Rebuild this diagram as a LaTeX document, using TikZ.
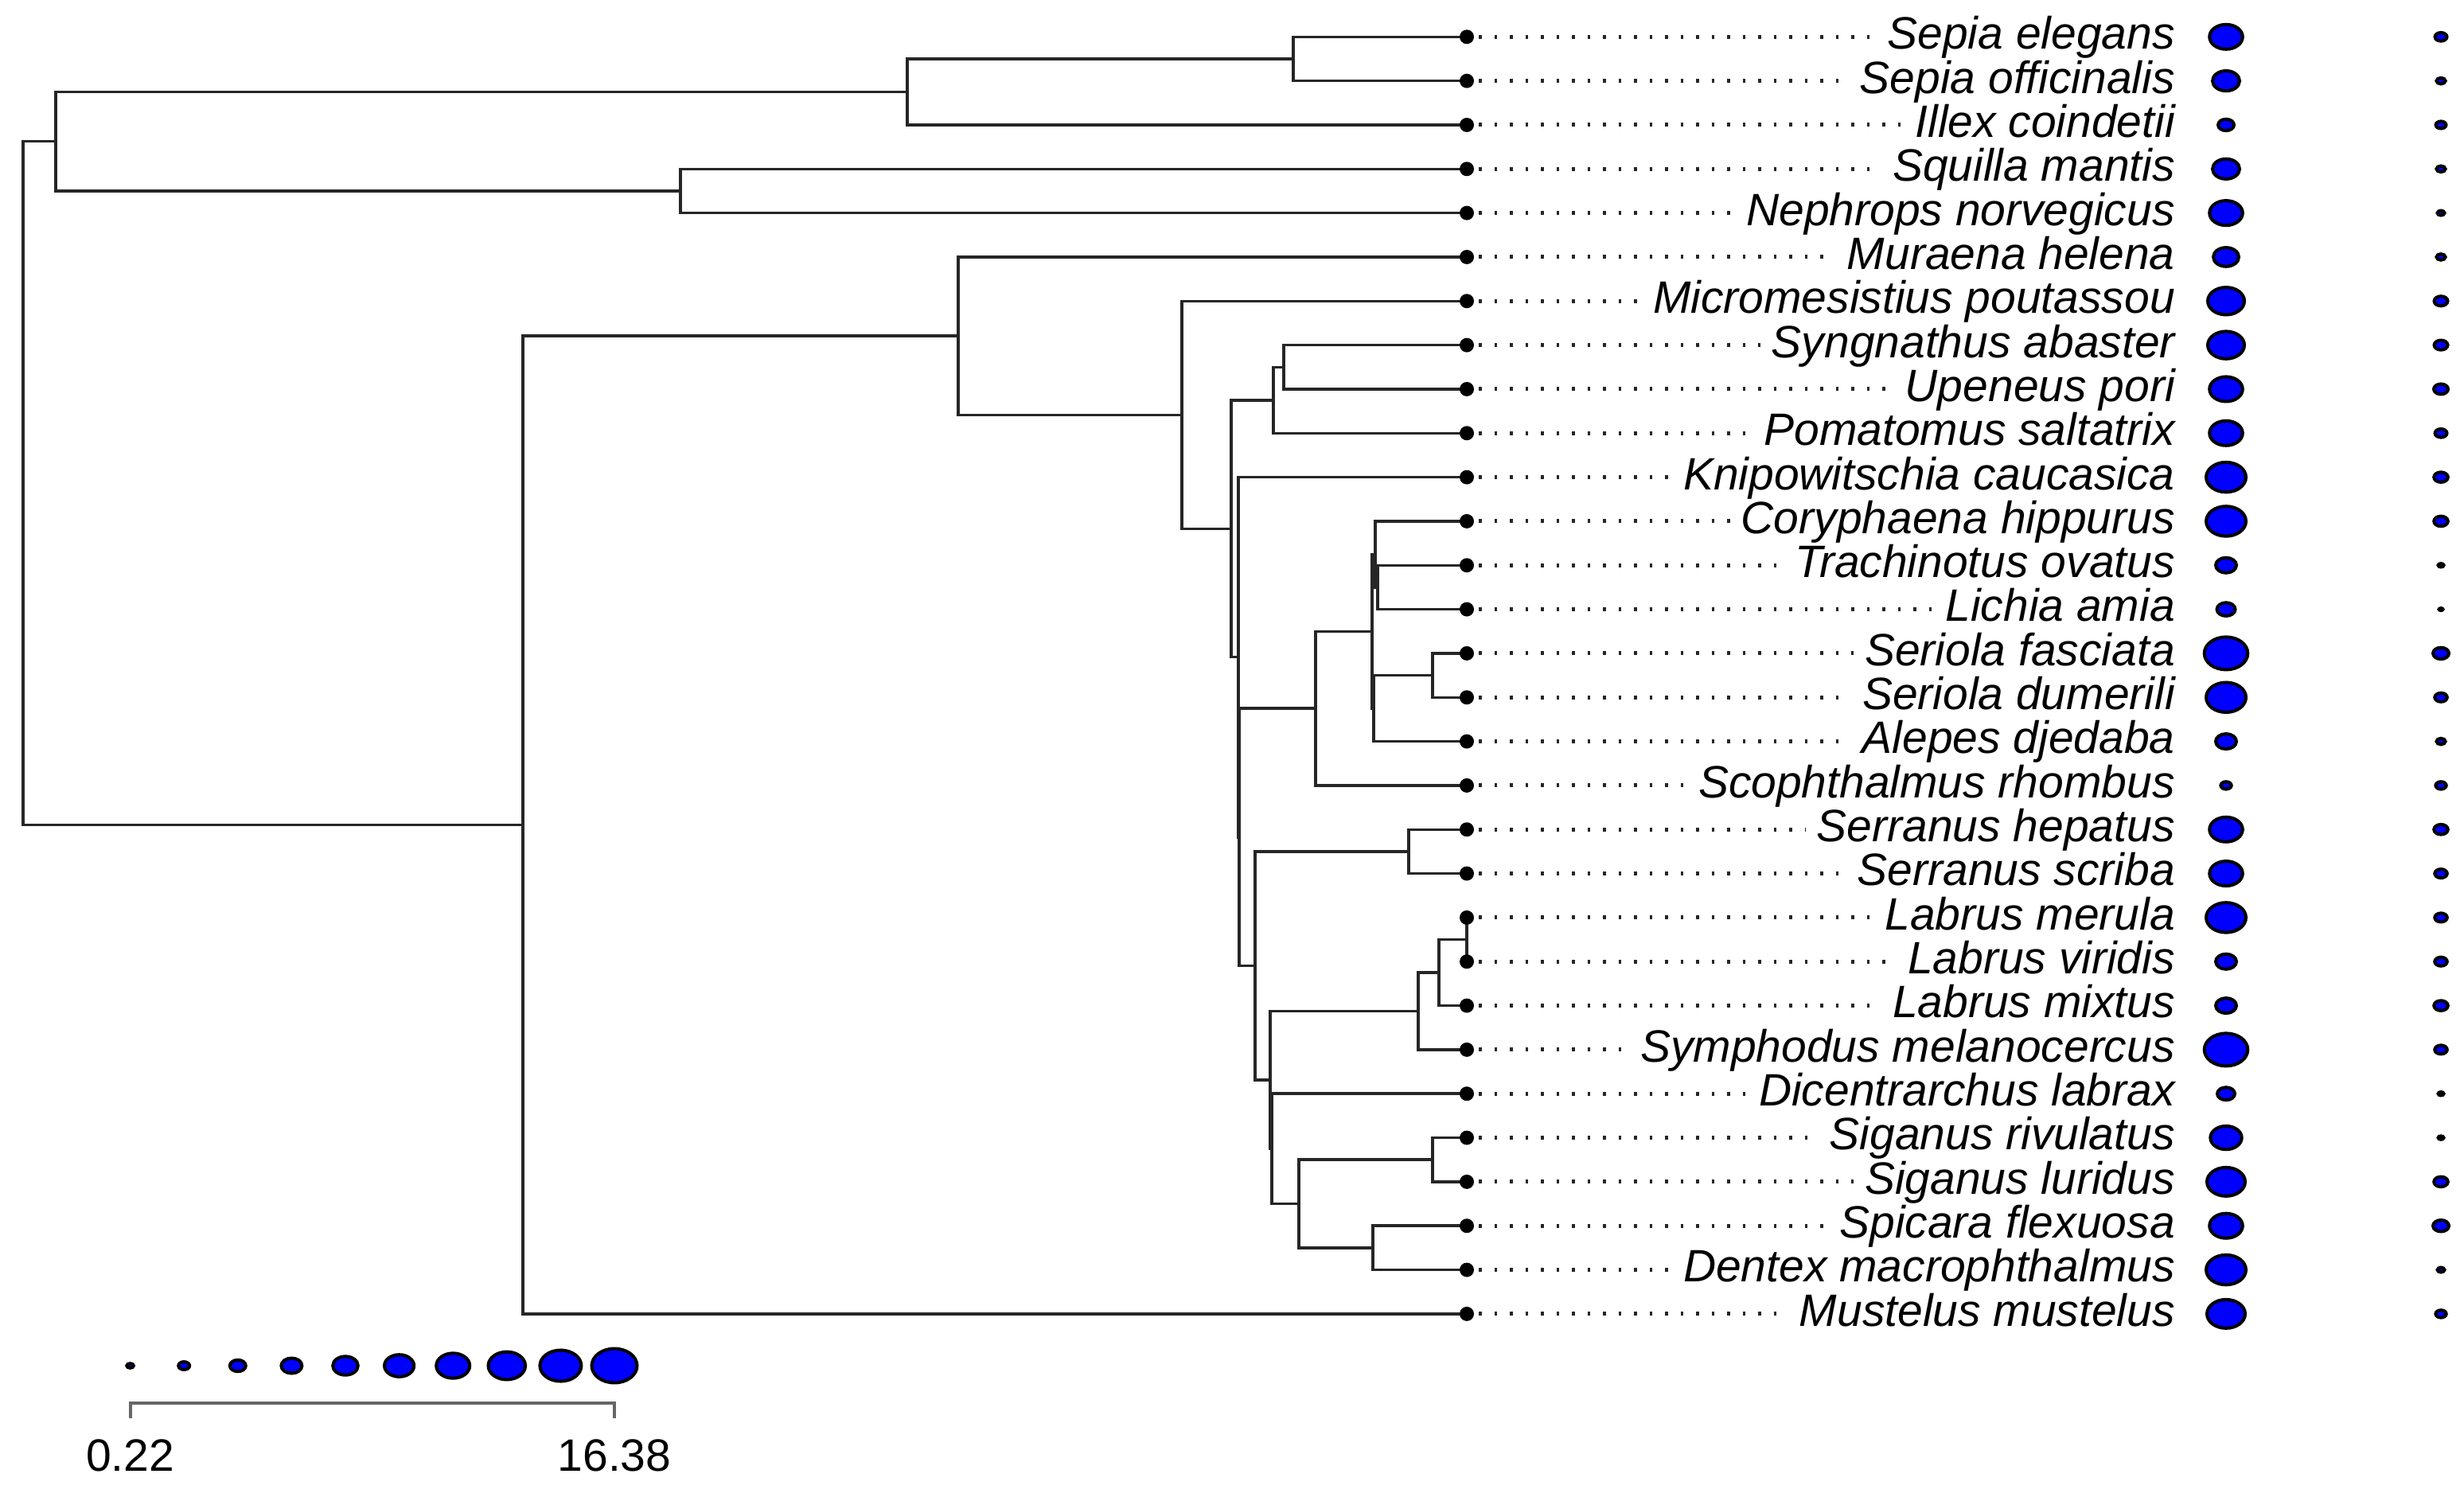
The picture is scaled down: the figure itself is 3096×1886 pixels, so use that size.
\documentclass[tikz,border=0pt]{standalone}
\usepackage{fontspec}
\setmainfont{Liberation Sans}
\begin{document}
\begin{tikzpicture}[x=1pt,y=-1pt,
  edge/.style={draw=black!85,line width=3.5pt,line cap=rect},
  tipdot/.style={circle,fill=black,inner sep=0pt,minimum size=18pt},
  lab/.style={font=\fontsize{57}{60}\selectfont\itshape,inner sep=0pt,anchor=base east},
  dotline/.style={draw=black!85,line width=5pt,dash pattern=on 3.5pt off 16pt},
  bigdot/.style={draw=black,fill=blue,line width=4pt},
  legbar/.style={draw=black!60,line width=4pt},
  num/.style={font=\fontsize{57}{60}\selectfont,inner sep=0pt}]
\useasboundingbox (0,0) rectangle (3096,1886);
% tip coordinates
\foreach \i in {0,...,29}{
  \pgfmathsetmacro{\yy}{46.3+55.33*\i}
  \coordinate (c\i) at (1843,\yy);
}
% internal nodes
\coordinate (nSep)  at (1625,74.0);
\coordinate (nI)    at (1140,115.5);
\coordinate (nSq)   at (855,240.0);
\coordinate (nInv)  at (70,177.7);
\coordinate (nSyU)  at (1613,461.3);
\coordinate (nPom)  at (1600,502.8);
\coordinate (nT)    at (1731,738.0);
\coordinate (nCT)   at (1728,696.5);
\coordinate (nSer)  at (1800,848.6);
\coordinate (nD2)   at (1726,890.1);
\coordinate (nD)    at (1724,793.3);
\coordinate (nCar)  at (1653,890.1);
\coordinate (nSrr)  at (1770,1069.9);
\coordinate (nLv)   at (1843,1180.6);
\coordinate (nLm)   at (1808,1222.1);
\coordinate (nLab)  at (1782,1270.5);
\coordinate (nSig)  at (1800,1457.2);
\coordinate (nSD)   at (1725,1567.9);
\coordinate (nH)    at (1632,1512.5);
\coordinate (nG2)   at (1598,1443.4);
\coordinate (nG1)   at (1596,1357.0);
\coordinate (nC)    at (1577,1213.4);
\coordinate (nB)    at (1557,1051.8);
\coordinate (nA)    at (1556,825.7);
\coordinate (nP)    at (1547,664.3);
\coordinate (nM)    at (1485,521.3);
\coordinate (nMu)   at (1204,422.2);
\coordinate (nFish) at (657,1036.5);
\coordinate (nRoot) at (29,607.1);
% edges
\draw[edge] (nRoot) |- (nInv);  \draw[edge] (nRoot) |- (nFish);
\draw[edge] (nInv) |- (nI);     \draw[edge] (nInv) |- (nSq);
\draw[edge] (nI) |- (nSep);     \draw[edge] (nI) |- (c2);
\draw[edge] (nSep) |- (c0);     \draw[edge] (nSep) |- (c1);
\draw[edge] (nSq) |- (c3);      \draw[edge] (nSq) |- (c4);
\draw[edge] (nFish) |- (nMu);   \draw[edge] (nFish) |- (c29);
\draw[edge] (nMu) |- (c5);      \draw[edge] (nMu) |- (nM);
\draw[edge] (nM) |- (c6);       \draw[edge] (nM) |- (nP);
\draw[edge] (nP) |- (nPom);     \draw[edge] (nP) |- (nA);
\draw[edge] (nPom) |- (nSyU);   \draw[edge] (nPom) |- (c9);
\draw[edge] (nSyU) |- (c7);     \draw[edge] (nSyU) |- (c8);
\draw[edge] (nA) |- (c10);      \draw[edge] (nA) |- (nB);
\draw[edge] (nB) |- (nCar);     \draw[edge] (nB) |- (nC);
\draw[edge] (nCar) |- (nD);     \draw[edge] (nCar) |- (c17);
\draw[edge] (nD) |- (nCT);      \draw[edge] (nD) |- (nD2);
\draw[edge] (nCT) |- (c11);     \draw[edge] (nCT) |- (nT);
\draw[edge] (nT) |- (c12);      \draw[edge] (nT) |- (c13);
\draw[edge] (nD2) |- (nSer);    \draw[edge] (nD2) |- (c16);
\draw[edge] (nSer) |- (c14);    \draw[edge] (nSer) |- (c15);
\draw[edge] (nC) |- (nSrr);     \draw[edge] (nC) |- (nG1);
\draw[edge] (nSrr) |- (c18);    \draw[edge] (nSrr) |- (c19);
\draw[edge] (nG1) |- (nLab);    \draw[edge] (nG1) |- (nG2);
\draw[edge] (nLab) |- (nLm);    \draw[edge] (nLab) |- (c23);
\draw[edge] (nLm) |- (nLv);     \draw[edge] (nLm) |- (c22);
\draw[edge] (nLv) -- (c20);     \draw[edge] (nLv) -- (c21);
\draw[edge] (nG2) |- (c24);     \draw[edge] (nG2) |- (nH);
\draw[edge] (nH) |- (nSig);     \draw[edge] (nH) |- (nSD);
\draw[edge] (nSig) |- (c25);    \draw[edge] (nSig) |- (c26);
\draw[edge] (nSD) |- (c27);     \draw[edge] (nSD) |- (c28);
% tips, labels, dotted leaders, trait dots
\foreach \i/\nm/\ra/\rb in {
  0/Sepia elegans/22.8/9.5,
  1/Sepia officinalis/19/7.6,
  2/Illex coindetii/12/8.5,
  3/Squilla mantis/19/7.6,
  4/Nephrops norvegicus/22.8/6.5,
  5/Muraena helena/18/7.6,
  6/Micromesistius poutassou/25/10.5,
  7/Syngnathus abaster/25/10.5,
  8/Upeneus pori/22.8/11,
  9/Pomatomus saltatrix/22.8/9.5,
  10/Knipowitschia caucasica/27/10.8,
  11/Coryphaena hippurus/27/10.8,
  12/Trachinotus ovatus/15/5.5,
  13/Lichia amia/13.5/4.5,
  14/Seriola fasciata/29.3/12,
  15/Seriola dumerili/27/9.8,
  16/Alepes djedaba/15/7.6,
  17/Scophthalmus rhombus/8.7/8.7,
  18/Serranus hepatus/22.8/10.8,
  19/Serranus scriba/22.8/9.8,
  20/Labrus merula/27/9.8,
  21/Labrus viridis/15/9.8,
  22/Labrus mixtus/15/10.8,
  23/Symphodus melanocercus/29.3/9.8,
  24/Dicentrarchus labrax/13/5.5,
  25/Siganus rivulatus/21.7/5.5,
  26/Siganus luridus/26/10.8,
  27/Spicara flexuosa/22.8/12,
  28/Dentex macrophthalmus/27/6.5,
  29/Mustelus mustelus/26/8.7}{
  \pgfmathsetmacro{\yy}{46.3+55.33*\i}
  \pgfmathsetmacro{\yb}{\yy+15.4}
  \node[tipdot] (t\i) at (c\i) {};
  \node[lab] (lab\i) at (2733,\yb) {\nm};
  \path (lab\i.west) ++(-14,0) coordinate (e\i);
  \draw[dotline] ([xshift=6pt]t\i.east) -- (e\i |- t\i.center);
  \pgfmathsetmacro{\rax}{\ra-2}
  \pgfmathsetmacro{\ray}{max(\ra/1.3-2,1)}
  \pgfmathsetmacro{\rbx}{\rb-2}
  \pgfmathsetmacro{\rby}{max(\rb/1.3-2,1)}
  \draw[bigdot] (2797,\yy) ellipse [x radius=\rax pt, y radius=\ray pt];
  \draw[bigdot] (3067,\yy) ellipse [x radius=\rbx pt, y radius=\rby pt];
}
% legend
\foreach \k/\r in {0/6.3,1/9,2/12,3/15,4/17.8,5/20.6,6/23,7/25.3,8/28,9/30.5}{
  \pgfmathsetmacro{\lx}{163.6+67.6*\k}
  \pgfmathsetmacro{\rx}{\r-2}
  \pgfmathsetmacro{\ry}{max(\r/1.3-2,1)}
  \draw[bigdot] (\lx,1716) ellipse [x radius=\rx pt, y radius=\ry pt];
}
\coordinate (b0) at (163.6,1763);
\coordinate (b1) at (772,1763);
\draw[legbar] ([yshift=-19pt]b0) -- (b0) -- (b1) -- ([yshift=-19pt]b1);
\node[num] (lmin) at (163.6,1829) {0.22};
\node[num] (lmax) at (772,1829) {16.38};
\end{tikzpicture}
\end{document}
